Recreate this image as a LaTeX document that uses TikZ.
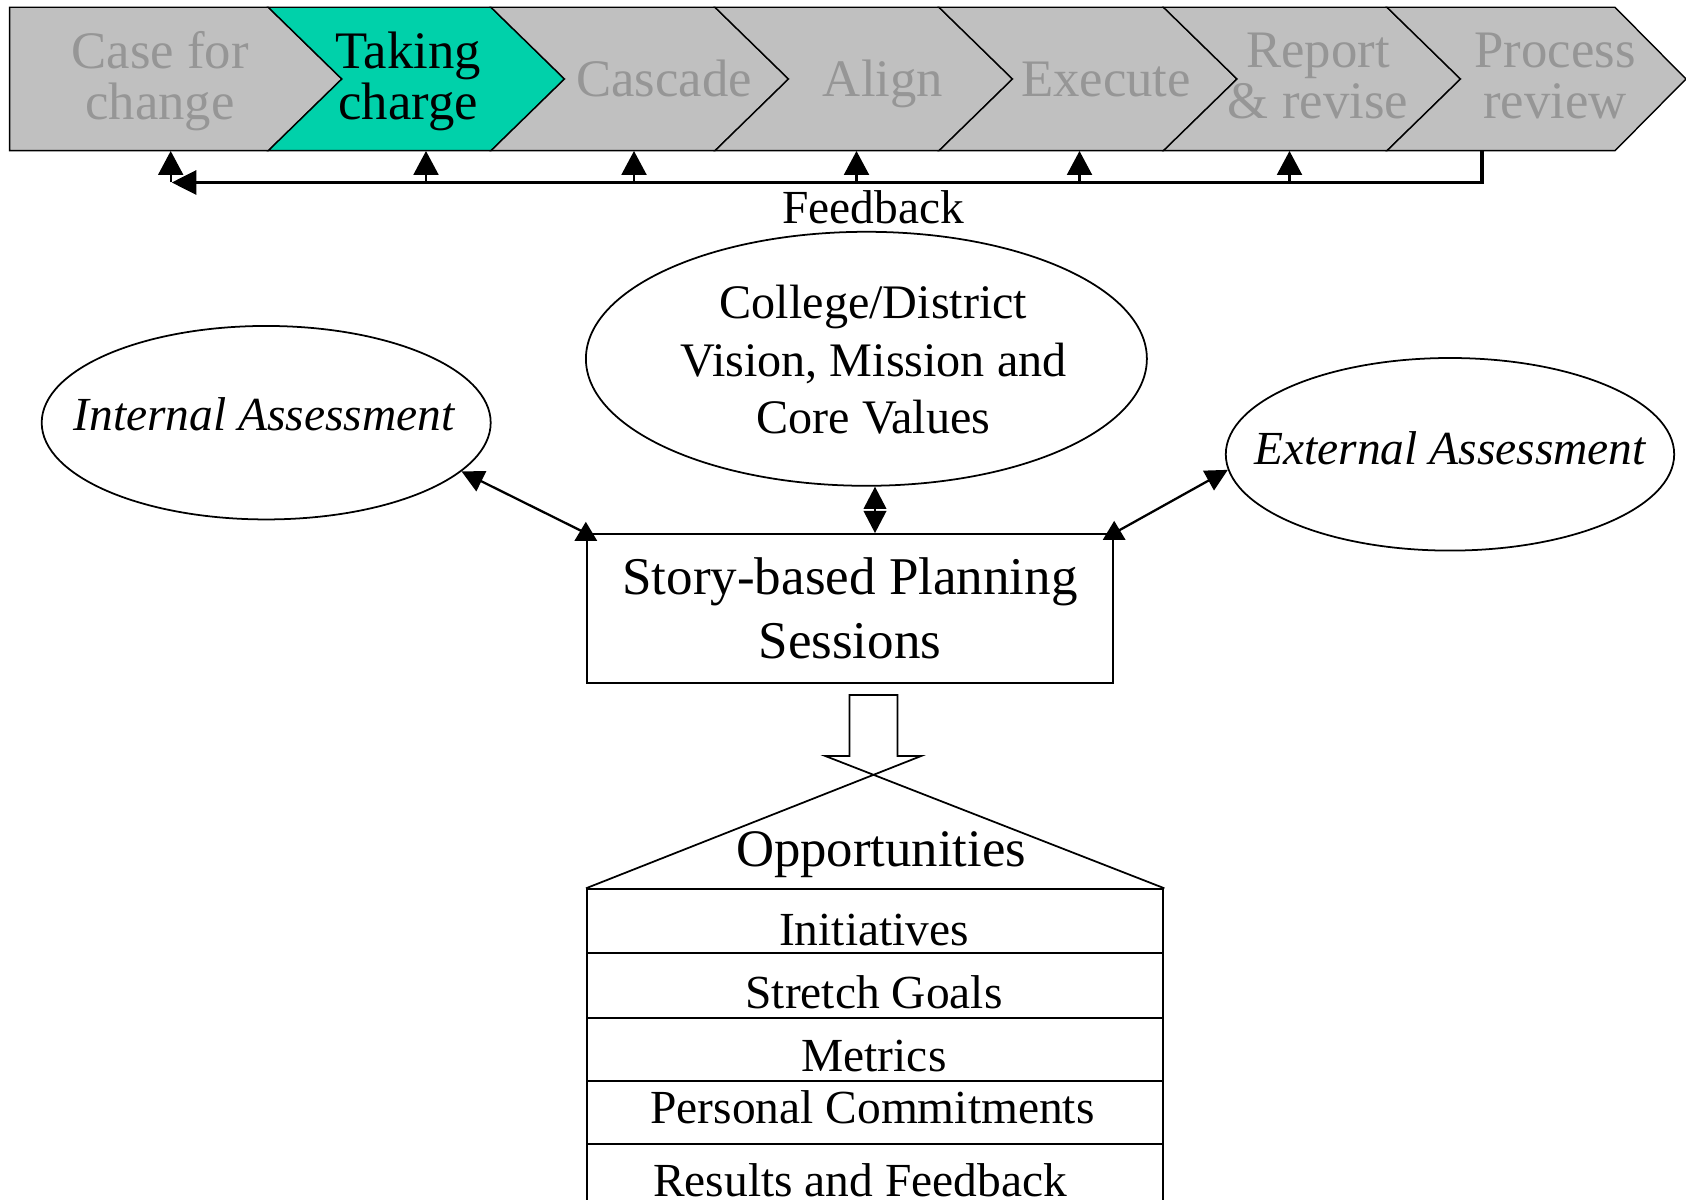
\documentclass[tikz,border=0pt]{standalone}
\usepackage{fontspec}
\setmainfont{Liberation Serif}
\usetikzlibrary{arrows.meta,shapes.geometric}

\begin{document}
\begin{tikzpicture}[x=0.1mm, y=-0.1mm,
    phase/.style={font=\fontsize{15}{14.5}\selectfont, align=center, inner sep=0pt, text=chtext},
    lbl/.style={font=\fontsize{13.5}{16.2}\selectfont, inner sep=0pt},
    oval/.style={ellipse, draw, line width=0.5pt, inner sep=0pt},
    row/.style={draw, line width=0.6pt, minimum width=57.63mm, inner sep=0pt, anchor=north west},
    link/.style={line width=0.65pt, {Triangle[length=6.3pt,width=6.3pt]}-{Triangle[length=5.4pt,width=6.3pt]}},
    uplink/.style={line width=0.6pt, -{Triangle[length=6.8pt,width=7.1pt]}}]
            % colours taken from the slide
            \definecolor{chgray}{HTML}{C0C0C0}
            \definecolor{chteal}{HTML}{00D1AA}
            \definecolor{chtext}{HTML}{969696}
            \clip (0,0) rectangle (1686,1200);
            % chevron band
            \filldraw[fill=chgray, line width=0.4pt] (9.7,7.3) -- (268.3,7.3) -- (341.8,79) -- (268.3,150.7) -- (9.7,150.7) -- cycle;
            \foreach \l/\r/\d/\col in {268.3/491/73.5/chteal, 491/715/73.5/chgray, 715/939/73.5/chgray,
                                       939/1163.5/73.5/chgray, 1163.5/1387/73.5/chgray, 1387/1615/71/chgray}
              \filldraw[fill=\col, line width=0.4pt] (\l,7.3) -- (\r,7.3) -- (\r+\d,79) -- (\r,150.7) -- (\l,150.7) -- (\l+73.5,79) -- cycle;
            \node[phase] (ph1) at (160,81.5) {Case for\\change};
            \node[phase, text=black] (ph2) at (408,81.5) {Taking\\charge};
            \node[phase, anchor=base] (ph3) at (664,96.7) {Cascade};
            \node[phase, anchor=base] (ph4) at (883,96.7) {Align};
            \node[phase, anchor=base] (ph5) at (1106,96.7) {Execute};
            \node[phase] (ph6) at (1318,76.3) {Report\\\& revise};
            \node[phase] (ph7) at (1555,76.3) {Process\\review};
            % feedback loop
            \coordinate (fbR) at (1482,151);
            \coordinate (fbC) at (1482,182.5);
            \coordinate (fbL) at (171.7,182.5);
            \draw[line width=0.95pt, -{Triangle[length=7pt,width=6.8pt]}] (fbR) -- (fbC) -- (fbL);
            \foreach \x [count=\i] in {170.7,426,634,856.5,1079.5,1289.5} {
              \coordinate (up\i) at (\x,182.5);
              \coordinate (in\i) at (\x,151);
              \draw[uplink] (up\i) -- (in\i);
            }
            \node[lbl, anchor=base] (fb) at (873,223.3) {Feedback};
            % ovals and planning box
            \node[oval, minimum width=56.1mm, minimum height=25.4mm] (cv) at (866.4,358.8) {};
            \node[lbl, align=center, font=\fontsize{13.7}{16.4}\selectfont] (cvtxt) at (873.5,359.7) {College/District\\Vision, Mission and\\Core Values};
            \node[oval, minimum width=44.9mm, minimum height=19.35mm] (ia) at (266.2,422.7) {};
            \node[lbl, anchor=base] (iatxt) at (264,430) {\itshape Internal Assessment};
            \node[oval, minimum width=44.84mm, minimum height=19.26mm] (ea) at (1450,454.3) {};
            \node[lbl, anchor=base] (eatxt) at (1450,465) {\itshape External Assessment};
            \node[draw, line width=0.5pt, minimum width=52.66mm, minimum height=14.88mm, align=center, inner sep=0pt,
                  font=\fontsize{15.1}{18.1}\selectfont] (sbp) at (850,608.4) {Story-based Planning\\Sessions};
            \draw[link] (ia.-14) -- (sbp.north west) -- ++(0,-11.3);
            \draw[link] (ea.184) -- (sbp.north east) -- ++(0,-12.3);
            \draw[line width=0.6pt, {Triangle[length=6.3pt,width=6.4pt]}-{Triangle[length=6.3pt,width=6.4pt]}]
              ([xshift=0.86mm]cv.south) -- ([xshift=0.86mm]cv.south |- sbp.north);
            % opportunities table
            \foreach \y/\h [count=\i] in {888.3/6.4mm, 952.3/6.44mm, 1016.7/6.33mm, 1080/6.33mm, 1143.3/7mm}
              \node[row, minimum height=\h] (r\i) at (586,\y) {};
            \draw[line width=0.5pt] (r1.north west) -- (921.2,756) -- (897.5,756) -- (897.5,695) -- (849.4,695)
              -- (849.4,756) -- (825.3,756) -- (r1.north east);
            \node[lbl, anchor=base, font=\fontsize{15}{18}\selectfont] (opp) at (881,866.7) {Opportunities};
            \node[lbl, anchor=base] (l1) at (874,945) {Initiatives};
            \node[lbl, anchor=base] (l2) at (874,1008) {Stretch Goals};
            \node[lbl, anchor=base] (l3) at (874,1071.7) {Metrics};
            \node[lbl, anchor=base] (l4) at (872.5,1123) {Personal Commitments};
            \node[lbl, anchor=base] (l5) at (860,1196.5) {Results and Feedback};
        \end{tikzpicture}
\end{document}
